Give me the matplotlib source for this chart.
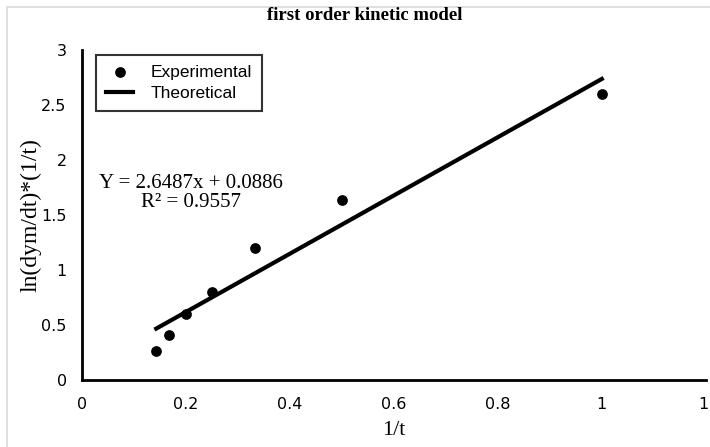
import matplotlib
matplotlib.use("Agg")
import matplotlib.pyplot as plt
from matplotlib.patches import Rectangle
import numpy as np

x_exp = [1/7, 1/6, 1/5, 1/4, 1/3, 1/2, 1.0]
y_exp = [0.26, 0.41, 0.60, 0.80, 1.20, 1.64, 2.60]
slope, intercept = 2.6487, 0.0886
x_fit = [min(x_exp), max(x_exp)]
y_fit = [slope * v + intercept for v in x_fit]
xticks = [0, 0.2, 0.4, 0.6, 0.8, 1, 1.2]
xticklabels = ["0", "0.2", "0.4", "0.6", "0.8", "1", "1."]
yticks = [0, 0.5, 1, 1.5, 2, 2.5, 3]
yticklabels = ["0", "0.5", "1", "1.5", "2", "2.5", "3"]

fig = plt.figure(figsize=(7.10, 4.47), dpi=100)
fig.patches.append(Rectangle((0.01, -0.1), 1.1, 1.085, transform=fig.transFigure,
                             fill=False, edgecolor="#d9d9d9", linewidth=1.2))
ax = fig.add_axes([0.1155, 0.150, 0.8785, 0.738])
ax.scatter(x_exp, y_exp, s=45, color="black", zorder=3, label="Experimental")
ax.plot(x_fit, y_fit, color="black", linewidth=3, label="Theoretical")
ax.set_xlim(0, 1.2)
ax.set_ylim(0, 3)
ax.set_xticks(xticks)
ax.set_xticklabels(xticklabels)
ax.set_yticks(yticks)
ax.set_yticklabels(yticklabels)
for lab in ax.get_xticklabels() + ax.get_yticklabels():
    lab.set_fontfamily(["Liberation Sans Narrow", "DejaVu Sans"])
    lab.set_fontsize(11.5)
ax.tick_params(axis="x", length=0, pad=12)
ax.tick_params(axis="y", length=0, pad=11)
for s in ["top", "right"]:
    ax.spines[s].set_visible(False)
for s in ["left", "bottom"]:
    ax.spines[s].set_linewidth(2)
ax.set_xlabel("1/t", fontfamily="Liberation Serif", fontsize=16, labelpad=7)
ax.set_ylabel("ln(dym/dt)*(1/t)", fontfamily="Liberation Serif", fontsize=17, labelpad=0)
fig.text(0.514, 0.965, "first order kinetic model", ha="center", va="center",
         fontfamily="Liberation Serif", fontweight="bold", fontsize=13.5)
ax.text(0.21, 1.70, "Y = 2.6487x + 0.0886\nR² = 0.9557", ha="center", va="center",
        fontfamily="Liberation Serif", fontsize=15, linespacing=1.05)
leg = ax.legend(loc="upper left", bbox_to_anchor=(0.017, 0.995), frameon=True, fancybox=False,
                edgecolor="black", prop={"family": "Liberation Sans", "size": 12.5},
                borderpad=0.55, handlelength=1.6, handletextpad=1.0, labelspacing=0.35,
                borderaxespad=0.2)
leg.get_frame().set_linewidth(1.5)
fig.savefig("out.png", dpi=100)
